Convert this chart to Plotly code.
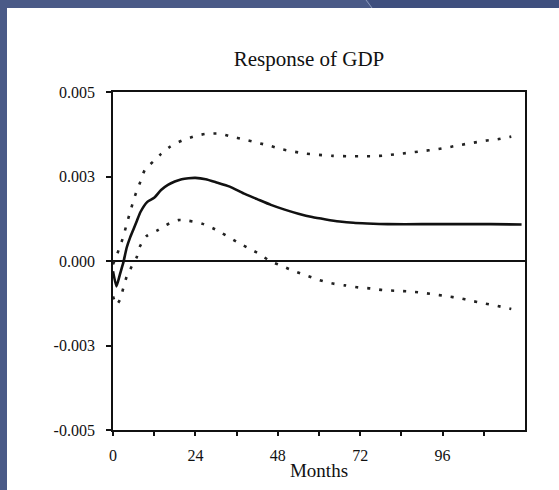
import plotly.graph_objects as go

# ---- data (values in GDP units) ----
irf_months = [0, 1, 2, 3, 4, 5, 6, 7, 8, 10, 12, 14, 16, 18, 20, 22, 24, 27, 30, 34, 38, 42,
              46, 50, 54, 58, 62, 66, 70, 74, 80, 90, 100, 110, 119]
irf_values = [-0.00030, -0.00075, -0.00040, -0.00005, 0.00040, 0.00070, 0.00095, 0.00120,
              0.00145, 0.00175, 0.00187, 0.00210, 0.00225, 0.00235, 0.00242, 0.00245,
              0.00246, 0.00242, 0.00233, 0.00220, 0.00200, 0.00183, 0.00166, 0.00152,
              0.00140, 0.00130, 0.00123, 0.00117, 0.00113, 0.00111, 0.00109, 0.00109,
              0.00109, 0.00109, 0.00108]

upper_months = [0, 1, 2, 3, 4, 5, 6, 7, 8, 9.3, 12, 14, 16.6, 20, 24, 27, 31, 34.5, 38, 42,
                46, 49, 53, 56, 60, 64, 68, 72, 75, 79, 82.5, 86, 90, 94, 97.5, 101, 105,
                108.5, 112, 116]
upper_values = [-0.00010, 0.00015, 0.00042, 0.00072, 0.00110, 0.00145, 0.00180, 0.00210,
                0.00235, 0.00270, 0.00297, 0.00317, 0.00338, 0.00356, 0.00370, 0.00376,
                0.00377, 0.00368, 0.00360, 0.00350, 0.00340, 0.00331, 0.00323, 0.00318,
                0.00314, 0.00311, 0.00310, 0.00310, 0.00310, 0.00312, 0.00316, 0.00320,
                0.00325, 0.00330, 0.00336, 0.00343, 0.00350, 0.00356, 0.00360, 0.00368]

lower_months = [0, 1, 2, 3, 4, 5.4, 6.9, 7.8, 9.8, 13.2, 15.6, 19, 22, 25.8, 29.7, 36, 39.4,
                42.8, 45.7, 49.5, 53, 56.3, 60, 63.6, 67.5, 71.4, 75, 78.5, 82, 86, 89.5, 93,
                97, 101, 104, 108, 112, 116]
lower_values = [-0.00105, -0.00130, -0.00115, -0.00080, -0.00046, -0.00017, 0.00011, 0.00042,
                0.00074, 0.00092, 0.00107, 0.00121, 0.00119, 0.00111, 0.00094, 0.00057,
                0.00038, 0.00020, 0.00000, -0.00016, -0.00031, -0.00043, -0.00056, -0.00066,
                -0.00072, -0.00078, -0.00081, -0.00086, -0.00088, -0.00090, -0.00093,
                -0.00098, -0.00104, -0.00110, -0.00117, -0.00125, -0.00133, -0.00142]

y_tickvals = [-0.005, -0.0025, 0.0, 0.0025, 0.005]
y_ticktext = ["-0.005", "-0.003", "0.000", "0.003", "0.005"]
x_tickvals = [0, 24, 48, 72, 96]
x_ticktext = ["0", "24", "48", "72", "96"]
x_minor_ticks = [12, 36, 60, 84, 108]

# ---- figure ----
W, H = 559, 490
L, R, T, B = 113, 34, 92, 60
pw, ph = W - L - R, H - T - B

def px_x(p):
    return (p - L) / pw

def px_y(p):
    return (H - B - p) / ph

fig = go.Figure()

band_line = dict(color="#222222", width=2.6, dash="3px,9px")
fig.add_trace(go.Scatter(x=upper_months, y=upper_values, mode="lines",
                         line=dict(**band_line, shape="spline", smoothing=0.6),
                         showlegend=False, hoverinfo="skip"))
fig.add_trace(go.Scatter(x=lower_months, y=lower_values, mode="lines",
                         line=dict(**band_line, shape="spline", smoothing=0.6),
                         showlegend=False, hoverinfo="skip"))
fig.add_trace(go.Scatter(x=irf_months, y=irf_values, mode="lines",
                         line=dict(color="#111111", width=2.6, shape="spline", smoothing=0.5),
                         showlegend=False))

serif = "Liberation Serif, Times New Roman, serif"

shapes = [
    # white slide area
    dict(type="rect", xref="paper", yref="paper", x0=px_x(7), x1=px_x(W + 5),
         y0=px_y(H + 5), y1=px_y(8), fillcolor="white", line_width=0, layer="below"),
    # darker right part of the top band
    dict(type="path", xref="paper", yref="paper",
         path=f"M {px_x(366)},{px_y(-5)} L {px_x(W + 5)},{px_y(-5)} L {px_x(W + 5)},{px_y(8)} L {px_x(372)},{px_y(8)} Z",
         fillcolor="#3f4f7e", line_width=0, layer="below"),
    dict(type="line", xref="paper", yref="paper", x0=px_x(366), y0=px_y(0),
         x1=px_x(372), y1=px_y(8), line=dict(color="#8a98bb", width=1), layer="below"),
]

fig.update_layout(
    width=W, height=H,
    margin=dict(l=L, r=R, t=T, b=B, pad=0),
    paper_bgcolor="#4a5a87",
    plot_bgcolor="rgba(0,0,0,0)",
    shapes=shapes,
    title=dict(text="Response of GDP", xref="container", x=309 / W, xanchor="center",
               yref="container", y=1 - 59 / H, yanchor="middle",
               font=dict(family=serif, size=21, color="#111111")),
    font=dict(family=serif, color="#111111"),
)

fig.update_xaxes(
    range=[0, 120], tickmode="array", tickvals=x_tickvals, ticktext=x_ticktext,
    showgrid=False, zeroline=False, showline=True, linecolor="#111111", linewidth=1.8,
    mirror=True, ticks="outside", ticklen=4, tickwidth=1.5, tickcolor="#111111",
    minor=dict(tickmode="array", tickvals=x_minor_ticks, ticks="outside",
               ticklen=4, tickwidth=1.5, tickcolor="#111111"),
    ticklabelstandoff=6,
    tickfont=dict(family=serif, size=16, color="#111111"),
    title=dict(text="Months", font=dict(family=serif, size=19, color="#111111"), standoff=1),
)
fig.update_yaxes(
    range=[-0.005, 0.005], tickmode="array", tickvals=y_tickvals, ticktext=y_ticktext,
    showgrid=False, zeroline=True, zerolinecolor="#111111", zerolinewidth=1.8,
    showline=True, linecolor="#111111", linewidth=1.8, mirror=True,
    ticks="outside", ticklen=5, tickwidth=1.5, tickcolor="#111111",
    ticklabelstandoff=8,
    tickfont=dict(family=serif, size=16, color="#111111"),
)

fig.write_html("out.html", config={"displayModeBar": False},
               post_script="document.body.style.margin='0';document.body.style.overflow='hidden';")
